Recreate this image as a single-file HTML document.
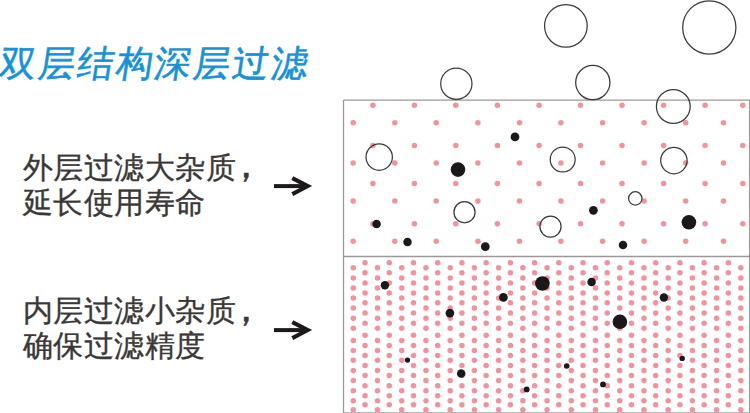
<!DOCTYPE html>
<html lang="zh">
<head>
<meta charset="utf-8">
<title>双层结构深层过滤</title>
<style>
html,body{margin:0;padding:0;background:#fff;}
body{width:750px;height:413px;position:relative;overflow:hidden;font-family:"Liberation Sans",sans-serif;}
.fig{position:absolute;left:0;top:0;}
.title{position:absolute;left:0px;top:42px;font-size:36.5px;line-height:44px;color:#1892d6;white-space:nowrap;letter-spacing:1.8px;transform:skewX(-8.5deg);transform-origin:0 50%;-webkit-text-stroke:0.6px #1892d6;}
.desc{position:absolute;left:22.5px;font-size:30px;line-height:35px;color:#3b3736;white-space:nowrap;letter-spacing:0.6px;-webkit-text-stroke:0.35px #3b3736;}
.cm{display:inline-block;transform:translate(-7.5px,-1.5px) scale(1.12);transform-origin:25% 80%;-webkit-text-stroke:0.8px #3b3736;}
.d1{top:150px;}
.d2{top:294.3px;line-height:34.2px;}
.d2 .cm{transform:translate(-7.5px,0.5px) scale(1.12);}
</style>
</head>
<body>
<svg class="fig" width="750" height="413" viewBox="0 0 750 413">
<g fill="#f0939d">
<circle cx="372.9" cy="105.2" r="2.75"/><circle cx="414.4" cy="105.2" r="2.75"/><circle cx="455.8" cy="105.2" r="2.75"/><circle cx="497.4" cy="105.2" r="2.75"/><circle cx="539.1" cy="105.2" r="2.75"/><circle cx="580.5" cy="105.2" r="2.75"/><circle cx="622" cy="105.2" r="2.75"/><circle cx="663.6" cy="105.2" r="2.75"/><circle cx="705.1" cy="105.2" r="2.75"/><circle cx="742.8" cy="105.2" r="2.75"/><circle cx="372.9" cy="145.5" r="2.75"/><circle cx="414.4" cy="145.5" r="2.75"/><circle cx="455.8" cy="145.5" r="2.75"/><circle cx="497.4" cy="145.5" r="2.75"/><circle cx="539.1" cy="145.5" r="2.75"/><circle cx="580.5" cy="145.5" r="2.75"/><circle cx="622" cy="145.5" r="2.75"/><circle cx="663.6" cy="145.5" r="2.75"/><circle cx="705.1" cy="145.5" r="2.75"/><circle cx="742.8" cy="145.5" r="2.75"/><circle cx="372.9" cy="183.4" r="2.75"/><circle cx="414.4" cy="183.4" r="2.75"/><circle cx="455.8" cy="183.4" r="2.75"/><circle cx="497.4" cy="183.4" r="2.75"/><circle cx="539.1" cy="183.4" r="2.75"/><circle cx="580.5" cy="183.4" r="2.75"/><circle cx="622" cy="183.4" r="2.75"/><circle cx="663.6" cy="183.4" r="2.75"/><circle cx="705.1" cy="183.4" r="2.75"/><circle cx="742.8" cy="183.4" r="2.75"/><circle cx="372.9" cy="223.7" r="2.75"/><circle cx="414.4" cy="223.7" r="2.75"/><circle cx="455.8" cy="223.7" r="2.75"/><circle cx="497.4" cy="223.7" r="2.75"/><circle cx="539.1" cy="223.7" r="2.75"/><circle cx="580.5" cy="223.7" r="2.75"/><circle cx="622" cy="223.7" r="2.75"/><circle cx="663.6" cy="223.7" r="2.75"/><circle cx="705.1" cy="223.7" r="2.75"/><circle cx="742.8" cy="223.7" r="2.75"/><circle cx="353.2" cy="122.8" r="2.75"/><circle cx="394.8" cy="122.8" r="2.75"/><circle cx="436.2" cy="122.8" r="2.75"/><circle cx="477.9" cy="122.8" r="2.75"/><circle cx="519.5" cy="122.8" r="2.75"/><circle cx="560.9" cy="122.8" r="2.75"/><circle cx="602.6" cy="122.8" r="2.75"/><circle cx="644.1" cy="122.8" r="2.75"/><circle cx="685.7" cy="122.8" r="2.75"/><circle cx="723.5" cy="122.8" r="2.75"/><circle cx="353.2" cy="163" r="2.75"/><circle cx="394.8" cy="163" r="2.75"/><circle cx="436.2" cy="163" r="2.75"/><circle cx="477.9" cy="163" r="2.75"/><circle cx="519.5" cy="163" r="2.75"/><circle cx="560.9" cy="163" r="2.75"/><circle cx="602.6" cy="163" r="2.75"/><circle cx="644.1" cy="163" r="2.75"/><circle cx="685.7" cy="163" r="2.75"/><circle cx="723.5" cy="163" r="2.75"/><circle cx="353.2" cy="201" r="2.75"/><circle cx="394.8" cy="201" r="2.75"/><circle cx="436.2" cy="201" r="2.75"/><circle cx="477.9" cy="201" r="2.75"/><circle cx="519.5" cy="201" r="2.75"/><circle cx="560.9" cy="201" r="2.75"/><circle cx="602.6" cy="201" r="2.75"/><circle cx="644.1" cy="201" r="2.75"/><circle cx="685.7" cy="201" r="2.75"/><circle cx="723.5" cy="201" r="2.75"/><circle cx="353.2" cy="241.3" r="2.75"/><circle cx="394.8" cy="241.3" r="2.75"/><circle cx="436.2" cy="241.3" r="2.75"/><circle cx="477.9" cy="241.3" r="2.75"/><circle cx="519.5" cy="241.3" r="2.75"/><circle cx="560.9" cy="241.3" r="2.75"/><circle cx="602.6" cy="241.3" r="2.75"/><circle cx="644.1" cy="241.3" r="2.75"/><circle cx="685.7" cy="241.3" r="2.75"/><circle cx="723.5" cy="241.3" r="2.75"/><circle cx="353.3" cy="267.8" r="2.75"/><circle cx="353.3" cy="277.9" r="2.75"/><circle cx="353.3" cy="287.9" r="2.75"/><circle cx="353.3" cy="298" r="2.75"/><circle cx="353.3" cy="307.9" r="2.75"/><circle cx="353.3" cy="318.2" r="2.75"/><circle cx="353.3" cy="328.2" r="2.75"/><circle cx="353.3" cy="340.4" r="2.75"/><circle cx="353.3" cy="350.4" r="2.75"/><circle cx="353.3" cy="360.3" r="2.75"/><circle cx="353.3" cy="370.4" r="2.75"/><circle cx="353.3" cy="380.5" r="2.75"/><circle cx="353.3" cy="390.7" r="2.75"/><circle cx="353.3" cy="400.7" r="2.75"/><circle cx="353.3" cy="409.8" r="2.75"/><circle cx="377.52" cy="267.8" r="2.75"/><circle cx="377.52" cy="277.9" r="2.75"/><circle cx="377.52" cy="287.9" r="2.75"/><circle cx="377.52" cy="298" r="2.75"/><circle cx="377.52" cy="307.9" r="2.75"/><circle cx="377.52" cy="318.2" r="2.75"/><circle cx="377.52" cy="328.2" r="2.75"/><circle cx="377.52" cy="340.4" r="2.75"/><circle cx="377.52" cy="350.4" r="2.75"/><circle cx="377.52" cy="360.3" r="2.75"/><circle cx="377.52" cy="370.4" r="2.75"/><circle cx="377.52" cy="380.5" r="2.75"/><circle cx="377.52" cy="390.7" r="2.75"/><circle cx="377.52" cy="400.7" r="2.75"/><circle cx="377.52" cy="409.8" r="2.75"/><circle cx="401.74" cy="267.8" r="2.75"/><circle cx="401.74" cy="277.9" r="2.75"/><circle cx="401.74" cy="287.9" r="2.75"/><circle cx="401.74" cy="298" r="2.75"/><circle cx="401.74" cy="307.9" r="2.75"/><circle cx="401.74" cy="318.2" r="2.75"/><circle cx="401.74" cy="328.2" r="2.75"/><circle cx="401.74" cy="340.4" r="2.75"/><circle cx="401.74" cy="350.4" r="2.75"/><circle cx="401.74" cy="360.3" r="2.75"/><circle cx="401.74" cy="370.4" r="2.75"/><circle cx="401.74" cy="380.5" r="2.75"/><circle cx="401.74" cy="390.7" r="2.75"/><circle cx="401.74" cy="400.7" r="2.75"/><circle cx="401.74" cy="409.8" r="2.75"/><circle cx="425.96" cy="267.8" r="2.75"/><circle cx="425.96" cy="277.9" r="2.75"/><circle cx="425.96" cy="287.9" r="2.75"/><circle cx="425.96" cy="298" r="2.75"/><circle cx="425.96" cy="307.9" r="2.75"/><circle cx="425.96" cy="318.2" r="2.75"/><circle cx="425.96" cy="328.2" r="2.75"/><circle cx="425.96" cy="340.4" r="2.75"/><circle cx="425.96" cy="350.4" r="2.75"/><circle cx="425.96" cy="360.3" r="2.75"/><circle cx="425.96" cy="370.4" r="2.75"/><circle cx="425.96" cy="380.5" r="2.75"/><circle cx="425.96" cy="390.7" r="2.75"/><circle cx="425.96" cy="400.7" r="2.75"/><circle cx="425.96" cy="409.8" r="2.75"/><circle cx="450.18" cy="267.8" r="2.75"/><circle cx="450.18" cy="277.9" r="2.75"/><circle cx="450.18" cy="287.9" r="2.75"/><circle cx="450.18" cy="298" r="2.75"/><circle cx="450.18" cy="307.9" r="2.75"/><circle cx="450.18" cy="318.2" r="2.75"/><circle cx="450.18" cy="328.2" r="2.75"/><circle cx="450.18" cy="340.4" r="2.75"/><circle cx="450.18" cy="350.4" r="2.75"/><circle cx="450.18" cy="360.3" r="2.75"/><circle cx="450.18" cy="370.4" r="2.75"/><circle cx="450.18" cy="380.5" r="2.75"/><circle cx="450.18" cy="390.7" r="2.75"/><circle cx="450.18" cy="400.7" r="2.75"/><circle cx="450.18" cy="409.8" r="2.75"/><circle cx="474.4" cy="267.8" r="2.75"/><circle cx="474.4" cy="277.9" r="2.75"/><circle cx="474.4" cy="287.9" r="2.75"/><circle cx="474.4" cy="298" r="2.75"/><circle cx="474.4" cy="307.9" r="2.75"/><circle cx="474.4" cy="318.2" r="2.75"/><circle cx="474.4" cy="328.2" r="2.75"/><circle cx="474.4" cy="340.4" r="2.75"/><circle cx="474.4" cy="350.4" r="2.75"/><circle cx="474.4" cy="360.3" r="2.75"/><circle cx="474.4" cy="370.4" r="2.75"/><circle cx="474.4" cy="380.5" r="2.75"/><circle cx="474.4" cy="390.7" r="2.75"/><circle cx="474.4" cy="400.7" r="2.75"/><circle cx="474.4" cy="409.8" r="2.75"/><circle cx="498.62" cy="267.8" r="2.75"/><circle cx="498.62" cy="277.9" r="2.75"/><circle cx="498.62" cy="287.9" r="2.75"/><circle cx="498.62" cy="298" r="2.75"/><circle cx="498.62" cy="307.9" r="2.75"/><circle cx="498.62" cy="318.2" r="2.75"/><circle cx="498.62" cy="328.2" r="2.75"/><circle cx="498.62" cy="340.4" r="2.75"/><circle cx="498.62" cy="350.4" r="2.75"/><circle cx="498.62" cy="360.3" r="2.75"/><circle cx="498.62" cy="370.4" r="2.75"/><circle cx="498.62" cy="380.5" r="2.75"/><circle cx="498.62" cy="390.7" r="2.75"/><circle cx="498.62" cy="400.7" r="2.75"/><circle cx="498.62" cy="409.8" r="2.75"/><circle cx="522.84" cy="267.8" r="2.75"/><circle cx="522.84" cy="277.9" r="2.75"/><circle cx="522.84" cy="287.9" r="2.75"/><circle cx="522.84" cy="298" r="2.75"/><circle cx="522.84" cy="307.9" r="2.75"/><circle cx="522.84" cy="318.2" r="2.75"/><circle cx="522.84" cy="328.2" r="2.75"/><circle cx="522.84" cy="340.4" r="2.75"/><circle cx="522.84" cy="350.4" r="2.75"/><circle cx="522.84" cy="360.3" r="2.75"/><circle cx="522.84" cy="370.4" r="2.75"/><circle cx="522.84" cy="380.5" r="2.75"/><circle cx="522.84" cy="390.7" r="2.75"/><circle cx="522.84" cy="400.7" r="2.75"/><circle cx="522.84" cy="409.8" r="2.75"/><circle cx="547.06" cy="267.8" r="2.75"/><circle cx="547.06" cy="277.9" r="2.75"/><circle cx="547.06" cy="287.9" r="2.75"/><circle cx="547.06" cy="298" r="2.75"/><circle cx="547.06" cy="307.9" r="2.75"/><circle cx="547.06" cy="318.2" r="2.75"/><circle cx="547.06" cy="328.2" r="2.75"/><circle cx="547.06" cy="340.4" r="2.75"/><circle cx="547.06" cy="350.4" r="2.75"/><circle cx="547.06" cy="360.3" r="2.75"/><circle cx="547.06" cy="370.4" r="2.75"/><circle cx="547.06" cy="380.5" r="2.75"/><circle cx="547.06" cy="390.7" r="2.75"/><circle cx="547.06" cy="400.7" r="2.75"/><circle cx="547.06" cy="409.8" r="2.75"/><circle cx="571.28" cy="267.8" r="2.75"/><circle cx="571.28" cy="277.9" r="2.75"/><circle cx="571.28" cy="287.9" r="2.75"/><circle cx="571.28" cy="298" r="2.75"/><circle cx="571.28" cy="307.9" r="2.75"/><circle cx="571.28" cy="318.2" r="2.75"/><circle cx="571.28" cy="328.2" r="2.75"/><circle cx="571.28" cy="340.4" r="2.75"/><circle cx="571.28" cy="350.4" r="2.75"/><circle cx="571.28" cy="360.3" r="2.75"/><circle cx="571.28" cy="370.4" r="2.75"/><circle cx="571.28" cy="380.5" r="2.75"/><circle cx="571.28" cy="390.7" r="2.75"/><circle cx="571.28" cy="400.7" r="2.75"/><circle cx="571.28" cy="409.8" r="2.75"/><circle cx="595.5" cy="267.8" r="2.75"/><circle cx="595.5" cy="277.9" r="2.75"/><circle cx="595.5" cy="287.9" r="2.75"/><circle cx="595.5" cy="298" r="2.75"/><circle cx="595.5" cy="307.9" r="2.75"/><circle cx="595.5" cy="318.2" r="2.75"/><circle cx="595.5" cy="328.2" r="2.75"/><circle cx="595.5" cy="340.4" r="2.75"/><circle cx="595.5" cy="350.4" r="2.75"/><circle cx="595.5" cy="360.3" r="2.75"/><circle cx="595.5" cy="370.4" r="2.75"/><circle cx="595.5" cy="380.5" r="2.75"/><circle cx="595.5" cy="390.7" r="2.75"/><circle cx="595.5" cy="400.7" r="2.75"/><circle cx="595.5" cy="409.8" r="2.75"/><circle cx="619.72" cy="267.8" r="2.75"/><circle cx="619.72" cy="277.9" r="2.75"/><circle cx="619.72" cy="287.9" r="2.75"/><circle cx="619.72" cy="298" r="2.75"/><circle cx="619.72" cy="307.9" r="2.75"/><circle cx="619.72" cy="318.2" r="2.75"/><circle cx="619.72" cy="328.2" r="2.75"/><circle cx="619.72" cy="340.4" r="2.75"/><circle cx="619.72" cy="350.4" r="2.75"/><circle cx="619.72" cy="360.3" r="2.75"/><circle cx="619.72" cy="370.4" r="2.75"/><circle cx="619.72" cy="380.5" r="2.75"/><circle cx="619.72" cy="390.7" r="2.75"/><circle cx="619.72" cy="400.7" r="2.75"/><circle cx="619.72" cy="409.8" r="2.75"/><circle cx="643.94" cy="267.8" r="2.75"/><circle cx="643.94" cy="277.9" r="2.75"/><circle cx="643.94" cy="287.9" r="2.75"/><circle cx="643.94" cy="298" r="2.75"/><circle cx="643.94" cy="307.9" r="2.75"/><circle cx="643.94" cy="318.2" r="2.75"/><circle cx="643.94" cy="328.2" r="2.75"/><circle cx="643.94" cy="340.4" r="2.75"/><circle cx="643.94" cy="350.4" r="2.75"/><circle cx="643.94" cy="360.3" r="2.75"/><circle cx="643.94" cy="370.4" r="2.75"/><circle cx="643.94" cy="380.5" r="2.75"/><circle cx="643.94" cy="390.7" r="2.75"/><circle cx="643.94" cy="400.7" r="2.75"/><circle cx="643.94" cy="409.8" r="2.75"/><circle cx="668.16" cy="267.8" r="2.75"/><circle cx="668.16" cy="277.9" r="2.75"/><circle cx="668.16" cy="287.9" r="2.75"/><circle cx="668.16" cy="298" r="2.75"/><circle cx="668.16" cy="307.9" r="2.75"/><circle cx="668.16" cy="318.2" r="2.75"/><circle cx="668.16" cy="328.2" r="2.75"/><circle cx="668.16" cy="340.4" r="2.75"/><circle cx="668.16" cy="350.4" r="2.75"/><circle cx="668.16" cy="360.3" r="2.75"/><circle cx="668.16" cy="370.4" r="2.75"/><circle cx="668.16" cy="380.5" r="2.75"/><circle cx="668.16" cy="390.7" r="2.75"/><circle cx="668.16" cy="400.7" r="2.75"/><circle cx="668.16" cy="409.8" r="2.75"/><circle cx="692.38" cy="267.8" r="2.75"/><circle cx="692.38" cy="277.9" r="2.75"/><circle cx="692.38" cy="287.9" r="2.75"/><circle cx="692.38" cy="298" r="2.75"/><circle cx="692.38" cy="307.9" r="2.75"/><circle cx="692.38" cy="318.2" r="2.75"/><circle cx="692.38" cy="328.2" r="2.75"/><circle cx="692.38" cy="340.4" r="2.75"/><circle cx="692.38" cy="350.4" r="2.75"/><circle cx="692.38" cy="360.3" r="2.75"/><circle cx="692.38" cy="370.4" r="2.75"/><circle cx="692.38" cy="380.5" r="2.75"/><circle cx="692.38" cy="390.7" r="2.75"/><circle cx="692.38" cy="400.7" r="2.75"/><circle cx="692.38" cy="409.8" r="2.75"/><circle cx="716.6" cy="267.8" r="2.75"/><circle cx="716.6" cy="277.9" r="2.75"/><circle cx="716.6" cy="287.9" r="2.75"/><circle cx="716.6" cy="298" r="2.75"/><circle cx="716.6" cy="307.9" r="2.75"/><circle cx="716.6" cy="318.2" r="2.75"/><circle cx="716.6" cy="328.2" r="2.75"/><circle cx="716.6" cy="340.4" r="2.75"/><circle cx="716.6" cy="350.4" r="2.75"/><circle cx="716.6" cy="360.3" r="2.75"/><circle cx="716.6" cy="370.4" r="2.75"/><circle cx="716.6" cy="380.5" r="2.75"/><circle cx="716.6" cy="390.7" r="2.75"/><circle cx="716.6" cy="400.7" r="2.75"/><circle cx="716.6" cy="409.8" r="2.75"/><circle cx="740.82" cy="267.8" r="2.75"/><circle cx="740.82" cy="277.9" r="2.75"/><circle cx="740.82" cy="287.9" r="2.75"/><circle cx="740.82" cy="298" r="2.75"/><circle cx="740.82" cy="307.9" r="2.75"/><circle cx="740.82" cy="318.2" r="2.75"/><circle cx="740.82" cy="328.2" r="2.75"/><circle cx="740.82" cy="340.4" r="2.75"/><circle cx="740.82" cy="350.4" r="2.75"/><circle cx="740.82" cy="360.3" r="2.75"/><circle cx="740.82" cy="370.4" r="2.75"/><circle cx="740.82" cy="380.5" r="2.75"/><circle cx="740.82" cy="390.7" r="2.75"/><circle cx="740.82" cy="400.7" r="2.75"/><circle cx="740.82" cy="409.8" r="2.75"/><circle cx="365.05" cy="262.7" r="2.75"/><circle cx="365.05" cy="272.8" r="2.75"/><circle cx="365.05" cy="282.9" r="2.75"/><circle cx="365.05" cy="293" r="2.75"/><circle cx="365.05" cy="302.8" r="2.75"/><circle cx="365.05" cy="312.9" r="2.75"/><circle cx="365.05" cy="323.2" r="2.75"/><circle cx="365.05" cy="335.3" r="2.75"/><circle cx="365.05" cy="345.4" r="2.75"/><circle cx="365.05" cy="355.5" r="2.75"/><circle cx="365.05" cy="365.5" r="2.75"/><circle cx="365.05" cy="375.4" r="2.75"/><circle cx="365.05" cy="385.7" r="2.75"/><circle cx="365.05" cy="395.8" r="2.75"/><circle cx="365.05" cy="404.8" r="2.75"/><circle cx="389.27" cy="262.7" r="2.75"/><circle cx="389.27" cy="272.8" r="2.75"/><circle cx="389.27" cy="282.9" r="2.75"/><circle cx="389.27" cy="293" r="2.75"/><circle cx="389.27" cy="302.8" r="2.75"/><circle cx="389.27" cy="312.9" r="2.75"/><circle cx="389.27" cy="323.2" r="2.75"/><circle cx="389.27" cy="335.3" r="2.75"/><circle cx="389.27" cy="345.4" r="2.75"/><circle cx="389.27" cy="355.5" r="2.75"/><circle cx="389.27" cy="365.5" r="2.75"/><circle cx="389.27" cy="375.4" r="2.75"/><circle cx="389.27" cy="385.7" r="2.75"/><circle cx="389.27" cy="395.8" r="2.75"/><circle cx="389.27" cy="404.8" r="2.75"/><circle cx="413.49" cy="262.7" r="2.75"/><circle cx="413.49" cy="272.8" r="2.75"/><circle cx="413.49" cy="282.9" r="2.75"/><circle cx="413.49" cy="293" r="2.75"/><circle cx="413.49" cy="302.8" r="2.75"/><circle cx="413.49" cy="312.9" r="2.75"/><circle cx="413.49" cy="323.2" r="2.75"/><circle cx="413.49" cy="335.3" r="2.75"/><circle cx="413.49" cy="345.4" r="2.75"/><circle cx="413.49" cy="355.5" r="2.75"/><circle cx="413.49" cy="365.5" r="2.75"/><circle cx="413.49" cy="375.4" r="2.75"/><circle cx="413.49" cy="385.7" r="2.75"/><circle cx="413.49" cy="395.8" r="2.75"/><circle cx="413.49" cy="404.8" r="2.75"/><circle cx="437.71" cy="262.7" r="2.75"/><circle cx="437.71" cy="272.8" r="2.75"/><circle cx="437.71" cy="282.9" r="2.75"/><circle cx="437.71" cy="293" r="2.75"/><circle cx="437.71" cy="302.8" r="2.75"/><circle cx="437.71" cy="312.9" r="2.75"/><circle cx="437.71" cy="323.2" r="2.75"/><circle cx="437.71" cy="335.3" r="2.75"/><circle cx="437.71" cy="345.4" r="2.75"/><circle cx="437.71" cy="355.5" r="2.75"/><circle cx="437.71" cy="365.5" r="2.75"/><circle cx="437.71" cy="375.4" r="2.75"/><circle cx="437.71" cy="385.7" r="2.75"/><circle cx="437.71" cy="395.8" r="2.75"/><circle cx="437.71" cy="404.8" r="2.75"/><circle cx="461.93" cy="262.7" r="2.75"/><circle cx="461.93" cy="272.8" r="2.75"/><circle cx="461.93" cy="282.9" r="2.75"/><circle cx="461.93" cy="293" r="2.75"/><circle cx="461.93" cy="302.8" r="2.75"/><circle cx="461.93" cy="312.9" r="2.75"/><circle cx="461.93" cy="323.2" r="2.75"/><circle cx="461.93" cy="335.3" r="2.75"/><circle cx="461.93" cy="345.4" r="2.75"/><circle cx="461.93" cy="355.5" r="2.75"/><circle cx="461.93" cy="365.5" r="2.75"/><circle cx="461.93" cy="375.4" r="2.75"/><circle cx="461.93" cy="385.7" r="2.75"/><circle cx="461.93" cy="395.8" r="2.75"/><circle cx="461.93" cy="404.8" r="2.75"/><circle cx="486.15" cy="262.7" r="2.75"/><circle cx="486.15" cy="272.8" r="2.75"/><circle cx="486.15" cy="282.9" r="2.75"/><circle cx="486.15" cy="293" r="2.75"/><circle cx="486.15" cy="302.8" r="2.75"/><circle cx="486.15" cy="312.9" r="2.75"/><circle cx="486.15" cy="323.2" r="2.75"/><circle cx="486.15" cy="335.3" r="2.75"/><circle cx="486.15" cy="345.4" r="2.75"/><circle cx="486.15" cy="355.5" r="2.75"/><circle cx="486.15" cy="365.5" r="2.75"/><circle cx="486.15" cy="375.4" r="2.75"/><circle cx="486.15" cy="385.7" r="2.75"/><circle cx="486.15" cy="395.8" r="2.75"/><circle cx="486.15" cy="404.8" r="2.75"/><circle cx="510.37" cy="262.7" r="2.75"/><circle cx="510.37" cy="272.8" r="2.75"/><circle cx="510.37" cy="282.9" r="2.75"/><circle cx="510.37" cy="293" r="2.75"/><circle cx="510.37" cy="302.8" r="2.75"/><circle cx="510.37" cy="312.9" r="2.75"/><circle cx="510.37" cy="323.2" r="2.75"/><circle cx="510.37" cy="335.3" r="2.75"/><circle cx="510.37" cy="345.4" r="2.75"/><circle cx="510.37" cy="355.5" r="2.75"/><circle cx="510.37" cy="365.5" r="2.75"/><circle cx="510.37" cy="375.4" r="2.75"/><circle cx="510.37" cy="385.7" r="2.75"/><circle cx="510.37" cy="395.8" r="2.75"/><circle cx="510.37" cy="404.8" r="2.75"/><circle cx="534.59" cy="262.7" r="2.75"/><circle cx="534.59" cy="272.8" r="2.75"/><circle cx="534.59" cy="282.9" r="2.75"/><circle cx="534.59" cy="293" r="2.75"/><circle cx="534.59" cy="302.8" r="2.75"/><circle cx="534.59" cy="312.9" r="2.75"/><circle cx="534.59" cy="323.2" r="2.75"/><circle cx="534.59" cy="335.3" r="2.75"/><circle cx="534.59" cy="345.4" r="2.75"/><circle cx="534.59" cy="355.5" r="2.75"/><circle cx="534.59" cy="365.5" r="2.75"/><circle cx="534.59" cy="375.4" r="2.75"/><circle cx="534.59" cy="385.7" r="2.75"/><circle cx="534.59" cy="395.8" r="2.75"/><circle cx="534.59" cy="404.8" r="2.75"/><circle cx="558.81" cy="262.7" r="2.75"/><circle cx="558.81" cy="272.8" r="2.75"/><circle cx="558.81" cy="282.9" r="2.75"/><circle cx="558.81" cy="293" r="2.75"/><circle cx="558.81" cy="302.8" r="2.75"/><circle cx="558.81" cy="312.9" r="2.75"/><circle cx="558.81" cy="323.2" r="2.75"/><circle cx="558.81" cy="335.3" r="2.75"/><circle cx="558.81" cy="345.4" r="2.75"/><circle cx="558.81" cy="355.5" r="2.75"/><circle cx="558.81" cy="365.5" r="2.75"/><circle cx="558.81" cy="375.4" r="2.75"/><circle cx="558.81" cy="385.7" r="2.75"/><circle cx="558.81" cy="395.8" r="2.75"/><circle cx="558.81" cy="404.8" r="2.75"/><circle cx="583.03" cy="262.7" r="2.75"/><circle cx="583.03" cy="272.8" r="2.75"/><circle cx="583.03" cy="282.9" r="2.75"/><circle cx="583.03" cy="293" r="2.75"/><circle cx="583.03" cy="302.8" r="2.75"/><circle cx="583.03" cy="312.9" r="2.75"/><circle cx="583.03" cy="323.2" r="2.75"/><circle cx="583.03" cy="335.3" r="2.75"/><circle cx="583.03" cy="345.4" r="2.75"/><circle cx="583.03" cy="355.5" r="2.75"/><circle cx="583.03" cy="365.5" r="2.75"/><circle cx="583.03" cy="375.4" r="2.75"/><circle cx="583.03" cy="385.7" r="2.75"/><circle cx="583.03" cy="395.8" r="2.75"/><circle cx="583.03" cy="404.8" r="2.75"/><circle cx="607.25" cy="262.7" r="2.75"/><circle cx="607.25" cy="272.8" r="2.75"/><circle cx="607.25" cy="282.9" r="2.75"/><circle cx="607.25" cy="293" r="2.75"/><circle cx="607.25" cy="302.8" r="2.75"/><circle cx="607.25" cy="312.9" r="2.75"/><circle cx="607.25" cy="323.2" r="2.75"/><circle cx="607.25" cy="335.3" r="2.75"/><circle cx="607.25" cy="345.4" r="2.75"/><circle cx="607.25" cy="355.5" r="2.75"/><circle cx="607.25" cy="365.5" r="2.75"/><circle cx="607.25" cy="375.4" r="2.75"/><circle cx="607.25" cy="385.7" r="2.75"/><circle cx="607.25" cy="395.8" r="2.75"/><circle cx="607.25" cy="404.8" r="2.75"/><circle cx="631.47" cy="262.7" r="2.75"/><circle cx="631.47" cy="272.8" r="2.75"/><circle cx="631.47" cy="282.9" r="2.75"/><circle cx="631.47" cy="293" r="2.75"/><circle cx="631.47" cy="302.8" r="2.75"/><circle cx="631.47" cy="312.9" r="2.75"/><circle cx="631.47" cy="323.2" r="2.75"/><circle cx="631.47" cy="335.3" r="2.75"/><circle cx="631.47" cy="345.4" r="2.75"/><circle cx="631.47" cy="355.5" r="2.75"/><circle cx="631.47" cy="365.5" r="2.75"/><circle cx="631.47" cy="375.4" r="2.75"/><circle cx="631.47" cy="385.7" r="2.75"/><circle cx="631.47" cy="395.8" r="2.75"/><circle cx="631.47" cy="404.8" r="2.75"/><circle cx="655.69" cy="262.7" r="2.75"/><circle cx="655.69" cy="272.8" r="2.75"/><circle cx="655.69" cy="282.9" r="2.75"/><circle cx="655.69" cy="293" r="2.75"/><circle cx="655.69" cy="302.8" r="2.75"/><circle cx="655.69" cy="312.9" r="2.75"/><circle cx="655.69" cy="323.2" r="2.75"/><circle cx="655.69" cy="335.3" r="2.75"/><circle cx="655.69" cy="345.4" r="2.75"/><circle cx="655.69" cy="355.5" r="2.75"/><circle cx="655.69" cy="365.5" r="2.75"/><circle cx="655.69" cy="375.4" r="2.75"/><circle cx="655.69" cy="385.7" r="2.75"/><circle cx="655.69" cy="395.8" r="2.75"/><circle cx="655.69" cy="404.8" r="2.75"/><circle cx="679.91" cy="262.7" r="2.75"/><circle cx="679.91" cy="272.8" r="2.75"/><circle cx="679.91" cy="282.9" r="2.75"/><circle cx="679.91" cy="293" r="2.75"/><circle cx="679.91" cy="302.8" r="2.75"/><circle cx="679.91" cy="312.9" r="2.75"/><circle cx="679.91" cy="323.2" r="2.75"/><circle cx="679.91" cy="335.3" r="2.75"/><circle cx="679.91" cy="345.4" r="2.75"/><circle cx="679.91" cy="355.5" r="2.75"/><circle cx="679.91" cy="365.5" r="2.75"/><circle cx="679.91" cy="375.4" r="2.75"/><circle cx="679.91" cy="385.7" r="2.75"/><circle cx="679.91" cy="395.8" r="2.75"/><circle cx="679.91" cy="404.8" r="2.75"/><circle cx="704.13" cy="262.7" r="2.75"/><circle cx="704.13" cy="272.8" r="2.75"/><circle cx="704.13" cy="282.9" r="2.75"/><circle cx="704.13" cy="293" r="2.75"/><circle cx="704.13" cy="302.8" r="2.75"/><circle cx="704.13" cy="312.9" r="2.75"/><circle cx="704.13" cy="323.2" r="2.75"/><circle cx="704.13" cy="335.3" r="2.75"/><circle cx="704.13" cy="345.4" r="2.75"/><circle cx="704.13" cy="355.5" r="2.75"/><circle cx="704.13" cy="365.5" r="2.75"/><circle cx="704.13" cy="375.4" r="2.75"/><circle cx="704.13" cy="385.7" r="2.75"/><circle cx="704.13" cy="395.8" r="2.75"/><circle cx="704.13" cy="404.8" r="2.75"/><circle cx="728.35" cy="262.7" r="2.75"/><circle cx="728.35" cy="272.8" r="2.75"/><circle cx="728.35" cy="282.9" r="2.75"/><circle cx="728.35" cy="293" r="2.75"/><circle cx="728.35" cy="302.8" r="2.75"/><circle cx="728.35" cy="312.9" r="2.75"/><circle cx="728.35" cy="323.2" r="2.75"/><circle cx="728.35" cy="335.3" r="2.75"/><circle cx="728.35" cy="345.4" r="2.75"/><circle cx="728.35" cy="355.5" r="2.75"/><circle cx="728.35" cy="365.5" r="2.75"/><circle cx="728.35" cy="375.4" r="2.75"/><circle cx="728.35" cy="385.7" r="2.75"/><circle cx="728.35" cy="395.8" r="2.75"/><circle cx="728.35" cy="404.8" r="2.75"/>
</g>
<g fill="none" stroke="#9a9a9a" stroke-width="1.3">
<path d="M343.5 100.1H749.6V413M343.5 100.1V413M343.5 256.5H749.6"/>
</g><g fill="none" stroke="#b8b8b8" stroke-width="1.2"><path d="M343.5 412.6H749.6"/>
</g>
<g fill="#1c1718">
<circle cx="515" cy="136.9" r="4.36"/><circle cx="458" cy="169.6" r="7.3"/><circle cx="376.6" cy="224" r="4.25"/><circle cx="407.5" cy="242.1" r="4.26"/><circle cx="485.3" cy="246.7" r="4.36"/><circle cx="593.4" cy="210.3" r="4.36"/><circle cx="623" cy="245.1" r="4.26"/><circle cx="688.9" cy="222.3" r="7.3"/><circle cx="384.9" cy="285.3" r="4.2"/><circle cx="449.9" cy="313.1" r="4.36"/><circle cx="503.4" cy="297.4" r="4.36"/><circle cx="542.4" cy="283.5" r="7.3"/><circle cx="591.6" cy="282" r="4.26"/><circle cx="663.9" cy="297.5" r="4.2"/><circle cx="619.9" cy="321.8" r="7.3"/><circle cx="407.5" cy="360.1" r="2.65"/><circle cx="461.2" cy="373.5" r="4.26"/><circle cx="566.7" cy="366" r="2.8"/><circle cx="526.7" cy="389.4" r="2.9"/><circle cx="603" cy="384.4" r="2.9"/><circle cx="682.2" cy="358.4" r="2.7"/>
</g>
<g fill="none" stroke="#3a3a3a" stroke-width="1.25">
<circle cx="456.35" cy="83.7" r="15.62"/><circle cx="565.9" cy="25.9" r="21.32"/><circle cx="592.8" cy="82.6" r="17.12"/><circle cx="709.3" cy="27.4" r="26.62"/><circle cx="673.3" cy="106.5" r="16.88"/><circle cx="379.2" cy="157.1" r="13.18"/><circle cx="464.5" cy="212.2" r="10.57"/><circle cx="562.7" cy="159.5" r="12.47"/><circle cx="550.5" cy="226.6" r="10.57"/><circle cx="673.9" cy="160.6" r="13.18"/><circle cx="635.3" cy="198.4" r="6.67"/>
</g>
<g fill="none" stroke="#1e1a1a" stroke-width="4"><path d="M274 186.1 H306"/><path d="M292.3 178.1 L307.8 186.1 L292.3 194.1" stroke-linejoin="miter" stroke-miterlimit="10"/></g>
<g fill="none" stroke="#1e1a1a" stroke-width="4"><path d="M274 330.1 H306"/><path d="M292.3 322.1 L307.8 330.1 L292.3 338.1" stroke-linejoin="miter" stroke-miterlimit="10"/></g>
</svg>
<div class="title">双层结构深层过滤</div>
<div class="desc d1">外层过滤大杂质<span class="cm">，</span><br>延长使用寿命</div>
<div class="desc d2">内层过滤小杂质<span class="cm">，</span><br>确保过滤精度</div>
</body>
</html>
